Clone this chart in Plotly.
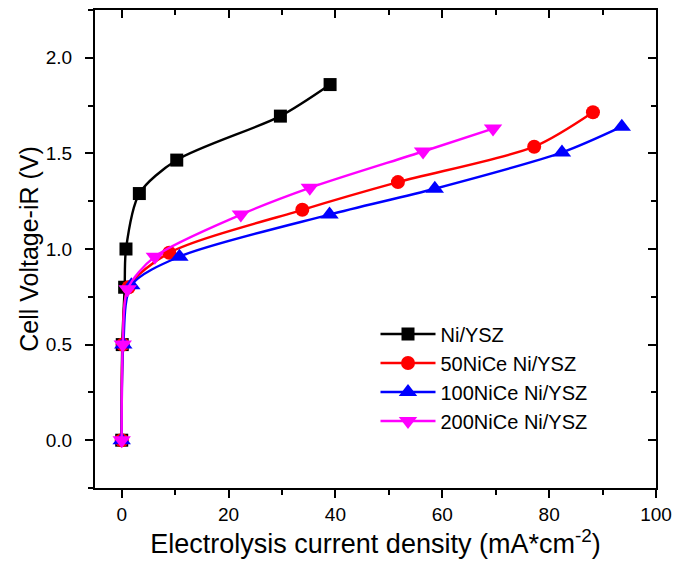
import plotly.graph_objects as go

# Data
ni_x = [0, 0.1, 0.55, 0.8, 3.3, 10.3, 29.7, 39.0]
ni_y = [0, 0.5, 0.8, 1.0, 1.29, 1.465, 1.695, 1.86]

nice50_x = [0, 0.2, 1.3, 8.9, 33.8, 51.7, 77.2, 88.2]
nice50_y = [0, 0.5, 0.8, 0.98, 1.205, 1.35, 1.535, 1.715]

nice100_x = [0, 0.3, 1.8, 10.8, 38.9, 58.6, 82.4, 93.6]
nice100_y = [0, 0.5, 0.81, 0.96, 1.18, 1.315, 1.505, 1.64]

nice200_x = [0, 0.2, 1.1, 6.2, 22.3, 35.2, 56.4, 69.5]
nice200_y = [0, 0.5, 0.79, 0.96, 1.18, 1.32, 1.51, 1.63]

names = ["Ni/YSZ", "50NiCe Ni/YSZ", "100NiCe Ni/YSZ", "200NiCe Ni/YSZ"]
colors = ["#000000", "#ff0000", "#0000ff", "#ff00ff"]
symbols = ["square", "circle", "triangle-up", "triangle-down"]
sizes = [13, 14, 16, 16]
xs = [ni_x, nice50_x, nice100_x, nice200_x]
ys = [ni_y, nice50_y, nice100_y, nice200_y]

x_range = [-5, 100]
y_range = [-0.25, 2.25]

fig = go.Figure()
for name, c, s, sz, x, y in zip(names, colors, symbols, sizes, xs, ys):
    fig.add_trace(go.Scatter(
        x=x, y=y, name=name, mode="lines+markers",
        line=dict(color=c, width=2.4, shape="spline", smoothing=0.8),
        marker=dict(color=c, symbol=s, size=sz),
    ))

# dummy trace for the mirrored inner-tick axes
fig.add_trace(go.Scatter(x=[None], y=[None], xaxis="x2", yaxis="y2",
                         showlegend=False, hoverinfo="skip"))

font_family = "Liberation Sans, Arial, sans-serif"
fig.update_layout(
    width=674, height=561,
    margin=dict(l=95, r=18, t=10, b=73),
    paper_bgcolor="white", plot_bgcolor="white",
    font=dict(family=font_family, color="black"),
    showlegend=True,
    legend=dict(x=0.5, y=0.363, xanchor="left", yanchor="top",
                bgcolor="rgba(0,0,0,0)", font=dict(size=20, family=font_family),
                itemwidth=55, tracegroupgap=0),
    xaxis=dict(range=x_range, showgrid=False, zeroline=False, automargin=False,
               showline=True, linecolor="black", linewidth=2, mirror=True,
               ticks="outside", ticklen=8, tickwidth=2, tickcolor="black",
               dtick=20, tick0=0,
               minor=dict(ticks="outside", ticklen=5, tickwidth=2,
                          tickcolor="black", dtick=10),
               tickfont=dict(size=19),
               title=dict(text="Electrolysis current density (mA*cm<sup>-2</sup>)",
                          font=dict(size=27), standoff=2)),
    yaxis=dict(range=y_range, showgrid=False, zeroline=False, automargin=False,
               showline=True, linecolor="black", linewidth=2, mirror=True,
               ticks="outside", ticklen=8, tickwidth=2, tickcolor="black",
               dtick=0.5, tick0=0, tickformat=".1f", ticklabelstandoff=9,
               minor=dict(ticks="outside", ticklen=5, tickwidth=2,
                          tickcolor="black", dtick=0.25),
               tickfont=dict(size=19),
               title=dict(text="Cell Voltage-iR (V)", font=dict(size=25),
                          standoff=0)),
    xaxis2=dict(range=x_range, overlaying="x", side="top", showgrid=False,
                zeroline=False, showline=False, showticklabels=False,
                automargin=False,
                ticks="inside", ticklen=8, tickwidth=2, tickcolor="black",
                dtick=20, tick0=0,
                minor=dict(ticks="inside", ticklen=5, tickwidth=2,
                           tickcolor="black", dtick=10)),
    yaxis2=dict(range=y_range, overlaying="y", side="right", showgrid=False,
                zeroline=False, showline=False, showticklabels=False,
                automargin=False,
                ticks="inside", ticklen=8, tickwidth=2, tickcolor="black",
                dtick=0.5, tick0=0,
                minor=dict(ticks="inside", ticklen=5, tickwidth=2,
                           tickcolor="black", dtick=0.25)),
)

fig.write_html("out.html", config={"displayModeBar": False},
               post_script="document.body.style.margin='0px';document.body.style.overflow='hidden';")
